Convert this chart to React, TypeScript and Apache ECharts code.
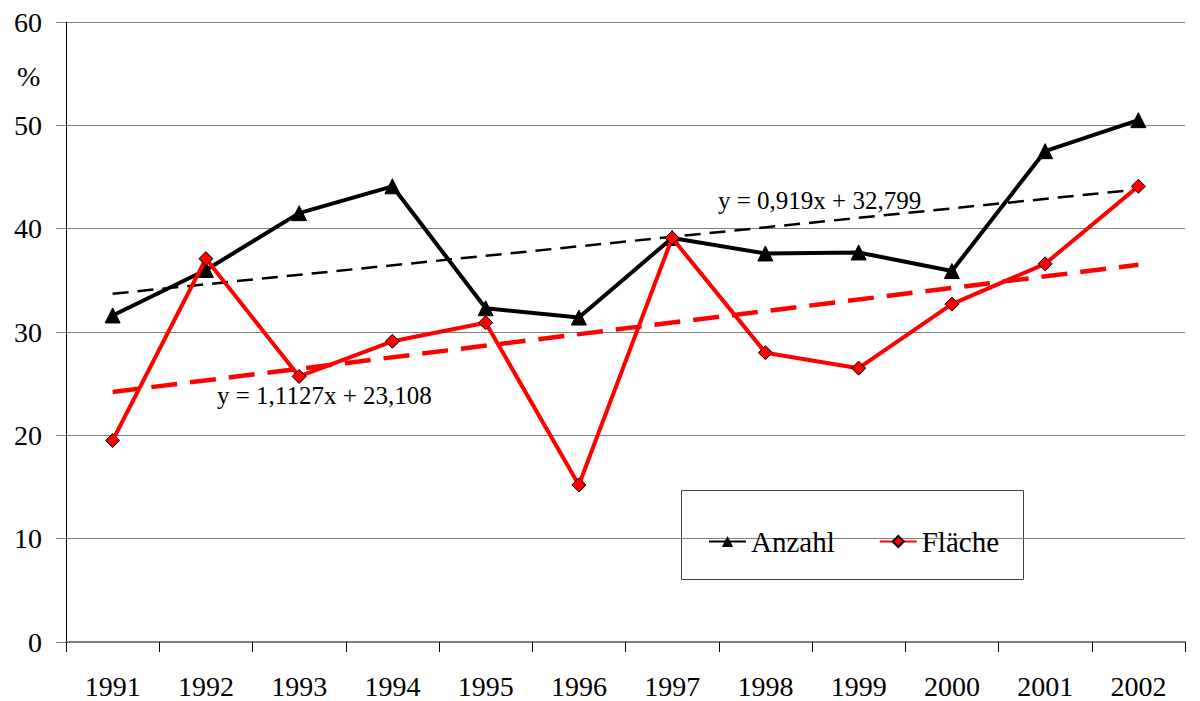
import React, { useEffect, useRef } from "react";
import * as echarts from "echarts";

const categories = ["1991", "1992", "1993", "1994", "1995", "1996", "1997", "1998", "1999", "2000", "2001", "2002"];
const anzahl = [31.6, 36.0, 41.5, 44.1, 32.3, 31.4, 39.1, 37.6, 37.7, 35.9, 47.5, 50.5];
const flaeche = [19.5, 37.1, 25.7, 29.1, 30.9, 15.2, 39.1, 28.0, 26.5, 32.7, 36.6, 44.1];
const trendAnzahl = [33.7, 43.8];
const trendFlaeche = [24.2, 36.5];
const yTicks = [0, 10, 20, 30, 40, 50, 60];

const FONT = "'Liberation Serif', 'Times New Roman', serif";

export default function App() {
  const ref = useRef<HTMLDivElement>(null);
  useEffect(() => {
    document.body.style.margin = "0";
    document.body.style.overflow = "hidden";
    const chart = echarts.init(ref.current!, null, { renderer: "svg" });
    chart.setOption({
      animation: false,
      backgroundColor: "#ffffff",
      textStyle: { fontFamily: FONT },
      grid: { left: 66, right: 15, top: 22, bottom: 59, containLabel: false },
      xAxis: {
        type: "category",
        data: categories,
        boundaryGap: true,
        axisLine: { show: true, lineStyle: { color: "#808080", width: 2 } },
        axisTick: { show: true, inside: false, length: 10, alignWithLabel: false, lineStyle: { color: "#000", width: 1 } },
        axisLabel: { color: "#000", fontSize: 28, fontFamily: FONT, margin: 30 },
        splitLine: { show: false },
      },
      yAxis: {
        type: "value",
        min: yTicks[0],
        max: yTicks[yTicks.length - 1],
        interval: 10,
        axisLine: { show: true, lineStyle: { color: "#000", width: 1 } },
        axisTick: { show: true, inside: false, length: 10, lineStyle: { color: "#808080", width: 1 } },
        axisLabel: { color: "#000", fontSize: 28, fontFamily: FONT, margin: 24 },
        splitLine: { show: true, lineStyle: { color: "#808080", width: 1 } },
      },
      legend: {
        left: 703,
        top: 522,
        itemWidth: 37,
        itemHeight: 14,
        itemGap: 44,
        textStyle: { fontSize: 29, fontFamily: FONT, color: "#000" },
        data: ["Anzahl", "Fläche"],
      },
      graphic: [
        {
          type: "rect",
          shape: { x: 681.5, y: 490.5, width: 342, height: 89 },
          style: { fill: "#fff", stroke: "#404040", lineWidth: 1 },
          z: 0,
        },
        {
          type: "text",
          x: 17,
          y: 62,
          style: { text: "%", fontSize: 28, fontFamily: FONT, fill: "#000" },
        },
        {
          type: "text",
          x: 718,
          y: 188,
          style: { text: "y = 0,919x + 32,799", fontSize: 25, fontFamily: FONT, fill: "#000" },
          z: 10,
        },
        {
          type: "text",
          x: 217,
          y: 383,
          style: { text: "y = 1,1127x + 23,108", fontSize: 25, fontFamily: FONT, fill: "#000" },
          z: 10,
        },
      ],
      series: [
        {
          name: "TrendAnzahl",
          type: "line",
          data: [[categories[0], trendAnzahl[0]], [categories[categories.length - 1], trendAnzahl[1]]],
          symbol: "none",
          lineStyle: { color: "#000", width: 2.5, type: [16, 9] },
          z: 2,
        },
        {
          name: "TrendFlaeche",
          type: "line",
          data: [[categories[0], trendFlaeche[0]], [categories[categories.length - 1], trendFlaeche[1]]],
          symbol: "none",
          lineStyle: { color: "#ff0000", width: 4.5, type: [26, 13] },
          z: 2,
        },
        {
          name: "Anzahl",
          type: "line",
          data: anzahl,
          symbol: "triangle",
          symbolSize: 15,
          itemStyle: { color: "#000", borderColor: "#000" },
          lineStyle: { color: "#000", width: 4 },
          z: 4,
        },
        {
          name: "Fläche",
          type: "line",
          data: flaeche,
          symbol: "diamond",
          symbolSize: 14,
          itemStyle: { color: "#ff0000", borderColor: "#000", borderWidth: 1 },
          lineStyle: { color: "#ff0000", width: 4 },
          z: 5,
        },
      ],
    });
    return () => chart.dispose();
  }, []);
  return <div ref={ref} style={{ width: 1200, height: 701 }} />;
}
